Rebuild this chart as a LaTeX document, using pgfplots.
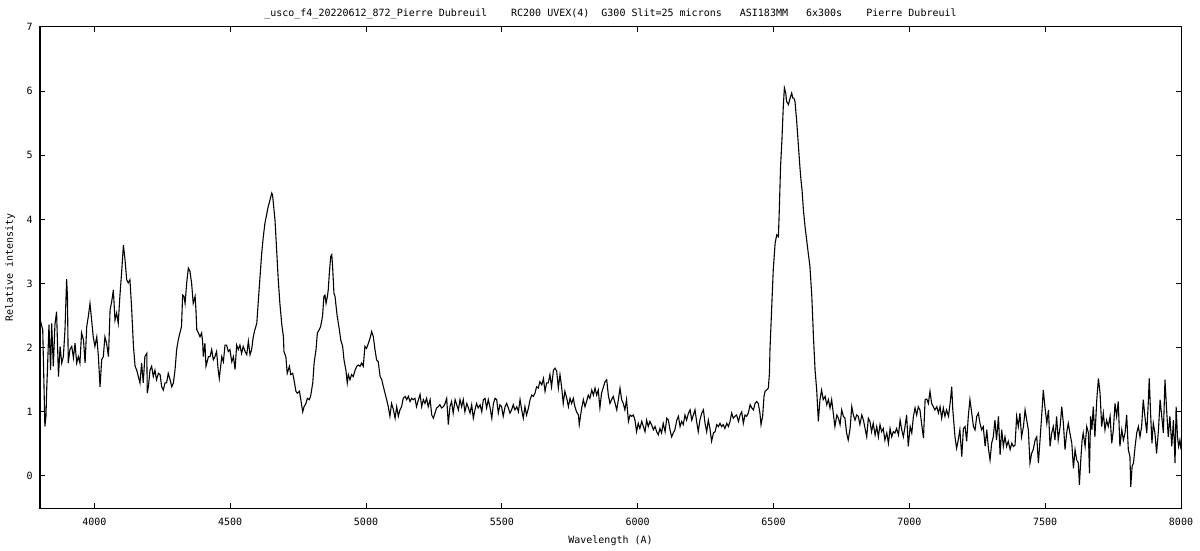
\documentclass[border=0pt]{standalone}
\usepackage{fontspec}
\setmainfont{DejaVu Sans Mono}
\usepackage{pgfplots}
\pgfplotsset{compat=1.18}
\usetikzlibrary{calc}

\newcommand\gap[1]{\hspace*{#1\fontcharwd\font`0}}

\begin{document}
\begin{tikzpicture}
\begin{axis}[
  name=ax,
  width=570.5pt, height=240.5pt, scale only axis,
  xmin=3800, xmax=8000, ymin=-0.5, ymax=7,
  xtick={4000,4500,...,8000}, ytick={0,...,7},
  tick align=inside, major tick length=2.5pt,
  axis line style={line width=0.5pt},
  every tick/.style={black, line width=0.5pt},
  /pgf/number format/assume math mode=true,
  /pgf/number format/1000 sep={},
  tick label style={font=\fontsize{5}{6}\selectfont, inner sep=0pt},
  xticklabel style={anchor=base, yshift=-8.5pt},
  yticklabel style={anchor=east, xshift=-3.5pt},
  label style={font=\fontsize{5}{6}\selectfont, inner sep=0pt},
  xlabel={Wavelength (A)},
  xlabel style={at={(axis description cs:0.5,-0.0748)}, anchor=base},
  ylabel={Relative intensity},
  ylabel style={at={(axis description cs:-0.0263,0.5)}, anchor=center, rotate=0},
  every axis title shift=0pt,
  title={\_usco\_f4\_20220612\_872\_Pierre Dubreuil\gap{4}RC200 UVEX(4)\gap{2}G300 Slit=25 microns\gap{3}ASI183MM\gap{3}6x300s\gap{4}Pierre Dubreuil},
  title style={font=\fontsize{5}{6}\selectfont, inner sep=0pt, at={(axis description cs:0.5,1)}, anchor=base, yshift=5pt},
]
\addplot[black, line width=0.55pt, no marks] coordinates {
(3800,2.45) (3810,2.28) (3815,1.34) (3818,0.77) (3822,0.93) (3825,1.39) (3827,1.60)
(3833,2.36) (3839,1.65) (3843,2.38) (3849,1.71) (3855,2.36) (3861,2.56) (3868,1.55)
(3874,2.02) (3880,1.76) (3886,1.86) (3892,2.28) (3898,3.07) (3901,2.80) (3904,1.76)
(3910,1.97) (3917,2.02) (3923,1.84) (3929,2.07) (3935,1.76) (3941,1.86) (3947,1.76)
(3953,2.23) (3960,2.12) (3966,1.76) (3972,2.33) (3978,2.49) (3984,2.69) (3990,2.43)
(3996,2.17) (4002,2.02) (4009,2.17) (4015,1.86) (4021,1.39) (4027,1.81) (4033,1.86)
(4039,2.17) (4045,2.07) (4052,1.86) (4058,2.59) (4064,2.72) (4070,2.90) (4076,2.43)
(4082,2.54) (4088,2.38) (4094,2.80) (4101,3.21) (4107,3.60) (4113,3.37) (4119,3.06)
(4125,3.01) (4131,3.06) (4137,2.64) (4144,2.02) (4150,1.71) (4156,1.65) (4162,1.55)
(4168,1.45) (4174,1.76) (4180,1.45) (4186,1.86) (4193,1.91) (4195,1.29) (4199,1.39)
(4205,1.65) (4211,1.71) (4217,1.55) (4223,1.65) (4229,1.50) (4236,1.60)
(4242,1.58) (4248,1.39) (4254,1.34) (4260,1.45) (4266,1.45) (4272,1.60) (4279,1.50)
(4285,1.39) (4291,1.45) (4297,1.65) (4303,1.97) (4309,2.12) (4315,2.23) (4321,2.33)
(4325,2.82) (4330,2.80) (4334,2.69) (4340,3.01) (4346,3.24) (4352,3.19) (4358,3.01)
(4364,2.69) (4371,2.80) (4374,2.59) (4377,2.28) (4383,2.23) (4389,2.17) (4395,2.23)
(4399,2.07) (4401,1.86) (4407,2.07) (4411,1.71) (4420,1.86) (4426,1.86) (4432,1.97)
(4438,1.81) (4444,1.86) (4450,1.94) (4456,1.65) (4460,1.52) (4469,1.86) (4475,1.78)
(4481,2.04) (4487,2.04) (4493,1.94) (4499,1.97) (4506,1.78) (4512,1.86) (4518,1.66)
(4524,2.04) (4530,1.97) (4536,2.04) (4542,1.91) (4548,2.02) (4555,1.94) (4561,1.89)
(4567,2.10) (4573,1.89) (4579,1.97) (4585,2.17) (4591,2.28) (4598,2.38) (4604,2.75)
(4610,3.11) (4616,3.47) (4622,3.73) (4628,3.94) (4634,4.07) (4640,4.20) (4647,4.31)
(4653,4.41) (4656,4.38) (4659,4.25) (4665,3.99) (4671,3.53) (4677,3.06) (4683,2.69)
(4690,2.36) (4696,2.17) (4698,1.94) (4705,1.86) (4710,1.60) (4718,1.71) (4723,1.58)
(4730,1.60) (4735,1.50) (4742,1.32) (4747,1.29) (4755,1.32) (4760,1.19) (4767,1.00)
(4772,1.08) (4779,1.13) (4784,1.21) (4791,1.19) (4796,1.24) (4804,1.45) (4809,1.76)
(4816,1.97) (4821,2.23) (4828,2.28) (4833,2.33) (4840,2.49) (4845,2.80) (4849,2.82)
(4853,2.69) (4858,2.80) (4861,2.90) (4865,3.16) (4870,3.42) (4874,3.45) (4877,3.27)
(4882,2.85) (4886,2.80) (4890,2.64) (4894,2.49) (4902,2.28) (4907,2.12) (4914,2.02)
(4919,1.81) (4926,1.65) (4931,1.45) (4935,1.58) (4941,1.50) (4947,1.58) (4953,1.55)
(4960,1.65) (4966,1.71) (4972,1.73) (4978,1.71) (4984,1.76) (4990,1.71) (4996,2.02)
(5002,1.99) (5009,2.07) (5015,2.15) (5021,2.25) (5027,2.17) (5033,1.97) (5039,1.81)
(5045,1.78) (5052,1.55)
(5058,1.50) (5064,1.39) (5070,1.29) (5076,1.19) (5082,1.08) (5088,0.93) (5094,1.13)
(5101,1.03) (5107,0.90) (5113,1.08) (5119,0.93) (5125,1.03) (5131,1.08) (5137,1.21)
(5144,1.24) (5150,1.19) (5156,1.24) (5162,1.16) (5168,1.21) (5174,1.19) (5180,1.21)
(5186,1.08) (5193,1.19) (5199,1.27) (5205,1.08) (5211,1.19) (5217,1.13) (5223,1.21)
(5229,1.08) (5236,1.19) (5242,0.95) (5248,0.90) (5254,0.98) (5260,1.06) (5266,1.08)
(5272,1.11) (5278,1.06) (5285,1.08) (5291,1.13) (5297,1.21) (5303,0.80) (5309,1.08)
(5315,1.16) (5321,0.98) (5328,1.19) (5334,1.11) (5340,1.03) (5346,1.19) (5352,1.08)
(5358,1.19) (5364,1.00) (5371,1.13) (5377,1.06) (5383,0.98) (5389,1.11) (5395,0.90)
(5401,1.03) (5407,1.13) (5413,1.06) (5420,1.11) (5426,1.00) (5432,1.19) (5438,1.21)
(5444,1.06) (5450,1.19) (5456,1.08) (5463,0.90) (5469,1.13) (5475,1.21) (5481,1.19)
(5487,0.98) (5493,1.11) (5499,1.08) (5505,0.93) (5512,1.08) (5518,1.13) (5524,1.06)
(5530,0.98) (5536,1.03) (5542,1.11) (5548,1.03) (5555,1.08) (5561,1.00) (5567,1.19)
(5573,1.03) (5579,0.90) (5585,1.08) (5591,0.95) (5598,1.06) (5604,1.19) (5610,1.26)
(5616,1.24) (5622,1.29) (5628,1.39) (5634,1.37) (5640,1.47) (5647,1.42) (5653,1.52)
(5659,1.32) (5665,1.45) (5671,1.45) (5677,1.58) (5683,1.39) (5690,1.65) (5696,1.68)
(5702,1.63) (5708,1.37) (5714,1.58) (5720,1.39) (5726,1.13) (5732,1.32) (5739,1.21)
(5745,1.08) (5751,1.21) (5757,1.13) (5763,1.21) (5769,1.08) (5775,1.00) (5782,0.95)
(5785,0.80) (5794,1.06) (5800,1.19) (5806,1.08) (5812,1.16) (5818,1.26) (5824,1.21)
(5831,1.34) (5837,1.26) (5843,1.37) (5849,1.26) (5855,1.34) (5861,1.06) (5867,1.29)
(5874,1.39) (5880,1.47) (5886,1.50) (5892,1.26) (5898,1.13) (5904,1.19) (5910,1.24)
(5917,1.13) (5923,1.03) (5929,1.19) (5935,1.37) (5941,1.19) (5947,1.13) (5953,1.03)
(5959,1.19) (5966,0.85) (5972,0.95) (5978,0.93) (5984,0.95) (5990,0.87) (5996,0.69)
(6002,0.82) (6008,0.74) (6015,0.85) (6021,0.77) (6027,0.69) (6033,0.87) (6039,0.77)
(6045,0.85) (6051,0.80) (6058,0.72) (6064,0.77) (6070,0.69) (6076,0.64) (6082,0.74)
(6088,0.67) (6094,0.82) (6101,0.69) (6107,0.90) (6113,0.87) (6119,0.72) (6125,0.61)
(6131,0.67) (6137,0.72) (6144,0.87) (6150,0.93) (6156,0.77) (6162,0.85) (6168,0.80)
(6174,0.95) (6180,0.87) (6187,0.98) (6193,1.03) (6199,0.87) (6205,0.95) (6211,1.03)
(6217,0.85) (6223,0.69) (6229,0.87) (6236,0.98) (6242,1.03) (6248,0.82) (6254,0.69)
(6260,0.87) (6266,0.74) (6272,0.54) (6279,0.67) (6285,0.69) (6291,0.80) (6297,0.77)
(6303,0.82) (6309,0.77) (6315,0.80) (6321,0.74) (6328,0.82) (6334,0.77) (6340,0.85)
(6346,0.98) (6352,0.90) (6358,0.93) (6364,0.95) (6371,0.85) (6377,0.95) (6383,1.00)
(6389,0.82) (6395,0.95) (6401,0.93) (6407,0.98) (6414,1.11) (6420,1.06) (6426,1.03)
(6432,1.13) (6438,1.16) (6444,1.13) (6450,0.98) (6454,0.80) (6460,0.93) (6465,1.24)
(6469,1.32) (6475,1.34) (6481,1.37) (6485,1.60) (6487,1.97) (6491,2.38)
(6499,3.21) (6506,3.63) (6512,3.76) (6518,3.73) (6521,4.10) (6526,4.83) (6531,5.24)
(6536,5.76) (6540,6.05) (6545,5.97) (6548,5.84) (6555,5.79) (6561,5.89) (6567,5.97)
(6571,5.89) (6575,5.89) (6579,5.84) (6585,5.55) (6591,5.19) (6598,4.77) (6601,4.62)
(6605,4.46) (6610,4.15) (6616,3.89) (6622,3.68) (6628,3.47) (6634,3.27) (6641,2.80)
(6647,2.17) (6653,1.65) (6659,1.34) (6665,0.85) (6671,1.19)
(6677,1.34) (6683,1.19) (6690,1.24) (6696,1.11) (6702,1.19) (6708,1.06) (6714,1.19)
(6720,0.98) (6726,0.77) (6733,0.95) (6739,0.90) (6745,0.80) (6751,1.03) (6757,0.93)
(6763,0.90) (6769,0.67) (6775,0.56) (6782,0.74) (6788,1.08) (6794,0.95) (6800,0.87)
(6806,0.95) (6812,0.93) (6818,0.80) (6825,0.95) (6831,0.87) (6837,0.74) (6843,0.61)
(6849,0.90) (6855,0.85) (6861,0.69) (6867,0.82) (6874,0.64) (6880,0.77) (6886,0.61)
(6892,0.80) (6898,0.69) (6904,0.74) (6910,0.56) (6917,0.67) (6923,0.51) (6929,0.74)
(6935,0.61) (6941,0.69) (6947,0.67) (6953,0.74) (6960,0.64) (6966,0.87) (6972,0.72)
(6978,0.61) (6984,0.77) (6990,0.95) (6996,0.46) (7003,0.77) (7009,0.67) (7015,0.93)
(7021,1.06) (7027,0.95) (7033,1.08) (7039,1.03) (7045,0.82) (7052,0.59) (7058,1.19)
(7064,1.20) (7070,1.13) (7076,1.32) (7082,1.13) (7088,1.08) (7094,1.03) (7101,1.08)
(7107,0.98) (7113,1.08) (7119,0.90) (7125,1.06) (7131,0.93) (7137,1.03) (7144,0.93)
(7150,1.13) (7156,1.39) (7160,1.03) (7164,0.82) (7168,0.61) (7174,0.43)
(7180,0.56) (7186,0.72) (7193,0.30) (7199,0.74) (7205,0.77) (7211,0.54) (7217,0.93)
(7223,1.19) (7229,1.00) (7236,0.77) (7242,0.72) (7248,0.93) (7254,0.98) (7260,0.82)
(7266,0.72) (7272,0.77) (7279,0.46) (7285,0.72) (7291,0.43) (7297,0.25) (7303,0.51)
(7309,0.61) (7315,0.87) (7321,0.56) (7328,0.93) (7334,0.33) (7340,0.72) (7346,0.46)
(7352,0.61) (7358,0.46) (7364,0.54) (7371,0.41) (7377,0.51) (7383,0.46) (7389,0.48)
(7395,0.93) (7401,0.77) (7407,0.98) (7413,0.61) (7420,0.77) (7426,1.03) (7432,0.87)
(7438,0.72) (7444,0.20) (7450,0.35) (7456,0.41) (7463,0.56) (7469,0.61) (7475,0.20)
(7481,0.56) (7487,0.93) (7493,1.34) (7499,1.08) (7506,0.82) (7512,1.03) (7518,0.46)
(7524,0.67) (7530,0.77) (7536,0.56) (7542,0.93) (7548,0.56) (7555,0.77) (7561,1.08)
(7567,0.82) (7573,0.41) (7579,0.67) (7585,0.82) (7591,0.67) (7598,0.51) (7604,0.12)
(7610,0.41) (7616,0.25) (7622,0.20) (7626,-0.14) (7631,0.25) (7636,0.56) (7640,0.67)
(7647,0.46) (7653,0.77) (7659,0.67) (7663,0.04) (7667,0.93) (7672,0.72) (7677,1.08)
(7683,0.61) (7690,1.19) (7696,1.52) (7702,1.29) (7708,0.77) (7714,0.98) (7720,0.72)
(7726,0.87) (7732,0.77) (7739,0.93) (7745,0.51) (7751,0.72) (7757,1.13) (7763,0.93)
(7769,1.16) (7775,0.46) (7782,0.72) (7788,0.56) (7794,0.67) (7800,0.95) (7806,0.41)
(7812,0.30) (7815,-0.17) (7820,0.15) (7825,0.20) (7831,0.46) (7837,0.67) (7843,0.77)
(7849,0.61) (7855,0.77) (7861,1.19) (7867,0.93) (7874,0.67) (7880,1.19) (7883,1.52)
(7888,0.98) (7893,0.51) (7898,0.82) (7904,0.67) (7910,0.35) (7917,0.72) (7923,1.19)
(7929,0.93) (7935,0.67) (7941,1.50) (7947,1.03) (7953,0.61) (7959,0.93) (7966,0.46)
(7972,0.87) (7978,0.20) (7982,1.08) (7987,0.61) (7991,0.46) (7996,0.56) (8000,0.41)
};
\end{axis}
\pgfresetboundingbox
\path ($(ax.south west)+(-20pt,-21pt)$) rectangle ($(ax.north east)+(9.5pt,13.5pt)$);
\end{tikzpicture}
\end{document}
